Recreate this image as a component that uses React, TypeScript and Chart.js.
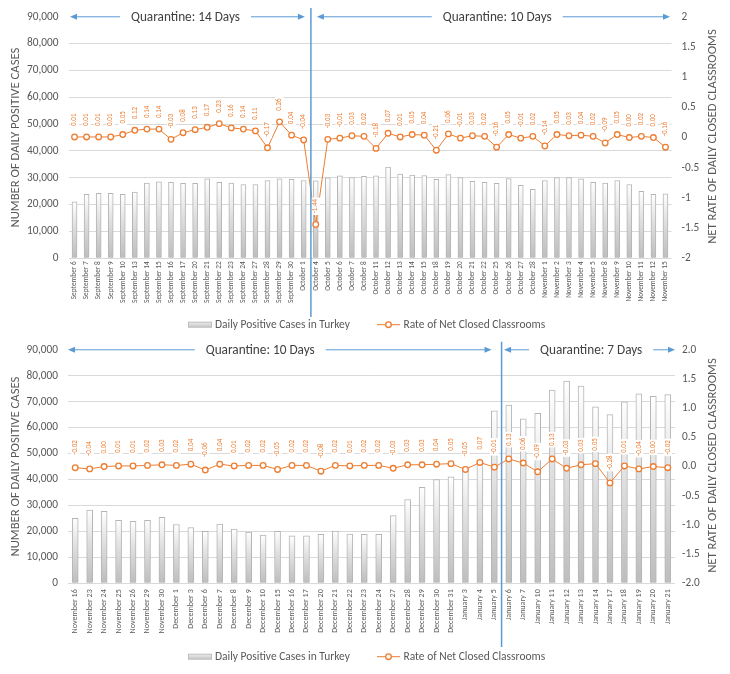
import React, { useEffect, useRef } from 'react';
import { Chart, registerables } from 'chart.js';

Chart.register(...registerables);

// ---------------- DATA ----------------
const topCategories = [
  'September 6', 'September 7', 'September 8', 'September 9', 'September 10', 'September 13', 'September 14',
  'September 15', 'September 16', 'September 17', 'September 20', 'September 21', 'September 22', 'September 23',
  'September 24', 'September 27', 'September 28', 'September 29', 'September 30', 'October 1', 'October 4',
  'October 5', 'October 6', 'October 7', 'October 8', 'October 11', 'October 12', 'October 13', 'October 14',
  'October 15', 'October 18', 'October 19', 'October 20', 'October 21', 'October 22', 'October 25', 'October 26',
  'October 27', 'October 28', 'November 1', 'November 2', 'November 3', 'November 4', 'November 5', 'November 8',
  'November 9', 'November 10', 'November 11', 'November 12', 'November 15',
];
const topCases = [
  21000, 23800, 24200, 24200, 23800, 24700, 28000, 28500, 28300, 27900, 27900, 29600, 28300, 28000, 27500, 27500,
  29000, 29600, 29400, 29000, 28900, 30000, 30700, 30100, 30500, 30700, 33950, 31350, 31000, 30850, 29400, 31200,
  30100, 28650, 28300, 27900, 29750, 27150, 25700, 29000, 30100, 30100, 29600, 28300, 28000, 29000, 27500, 24950,
  23850, 24050,
];
const topRates = [
  0.01, 0.01, 0.01, 0.01, 0.05, 0.12, 0.14, 0.14, -0.03, 0.08, 0.13, 0.17, 0.23, 0.16, 0.14, 0.11, -0.17, 0.26, 0.04,
  -0.04, -1.44, -0.03, -0.01, 0.03, 0.02, -0.18, 0.07, 0.01, 0.05, 0.04, -0.21, 0.06, -0.01, 0.03, 0.02, -0.16, 0.05,
  -0.01, 0.02, -0.14, 0.05, 0.03, 0.04, 0.02, -0.09, 0.05, 0.0, 0.02, 0.0, -0.16,
];

const bottomCategories = [
  'November 16', 'November 23', 'November 24', 'November 25', 'November 26', 'November 29', 'November 30',
  'December 1', 'December 3', 'December 6', 'December 7', 'December 8', 'December 9', 'December 10', 'December 15',
  'December 16', 'December 17', 'December 20', 'December 21', 'December 22', 'December 23', 'December 24',
  'December 27', 'December 28', 'December 29', 'December 30', 'December 31', 'January 3', 'January 4', 'January 5',
  'January 6', 'January 7', 'January 10', 'January 11', 'January 12', 'January 13', 'January 14', 'January 17',
  'January 18', 'January 19', 'January 20', 'January 21',
];
const bottomCases = [
  25050, 28200, 27700, 24300, 23900, 24300, 25450, 22650, 21500, 20000, 22800, 20900, 19750, 18600, 20000, 18250,
  18250, 18850, 20150, 19000, 18850, 18850, 26100, 32300, 36950, 40000, 41000, 44000, 47000, 66500, 68700, 63350,
  65500, 74500, 77950, 76050, 68050, 65000, 69950, 73000, 72100, 72750,
];
const bottomRates = [
  -0.02, -0.04, 0.0, 0.01, 0.01, 0.02, 0.03, 0.02, 0.04, -0.06, 0.04, 0.01, 0.02, 0.02, -0.05, 0.02, 0.02, -0.08,
  0.02, 0.01, 0.02, 0.02, -0.03, 0.03, 0.03, 0.04, 0.05, -0.05, 0.07, -0.01, 0.13, 0.06, -0.09, 0.13, -0.03, 0.03,
  0.05, -0.28, 0.01, -0.04, 0.0, -0.02,
];

const casesLabel = 'Daily Positive Cases in Turkey';
const ratesLabel = 'Rate of Net Closed Classrooms';
const leftTitle = 'NUMBER OF DAILY POSITIVE CASES';
const rightTitle = 'NET RATE OF DAILY CLOSED CLASSROOMS';

// ---------------- STYLE ----------------
const FONT = 'Carlito, Calibri, Lato, "Liberation Sans", sans-serif';
const ORANGE = '#ED7D31';
const BLUE = '#5B9BD5';
const TXT = '#595959';

function fitSize(text: string, target: number, family: string) {
  const c = document.createElement('canvas').getContext('2d') as CanvasRenderingContext2D;
  c.font = `20px ${family}`;
  const w = c.measureText(text).width || 1;
  return (20 * target) / w;
}

const topGeom = {
  height: 333, left: 68.5, right: 671.5, top: 15, bottom: 258.3, xPad: 3, rPad: 10, barW: 5, labelGap: 11,
  divIdx: 19.6, vTop: 8, vBot: 317, legendY: 324.7, xSize: 7.3, lblSize: 7,
  rightFmt: (v: number) => String(v),
  segments: [
    { text: 'Quarantine: 14 Days', x1: ['left', 1.5], x2: ['div', -6], c: 9.2 },
    { text: 'Quarantine: 10 Days', x1: ['div', 6], x2: ['right', -1.5], c: 35.05 },
  ],
};
const bottomGeom = {
  height: 341, left: 68, right: 675, top: 13.5, bottom: 250.3, xPad: 6, rPad: 7, barW: 6, labelGap: 13,
  divIdx: 29.5, vTop: 8.7, vBot: 314, legendY: 323.7, xSize: 8, lblSize: 7,
  rightFmt: (v: number) => Number(v).toFixed(1),
  segments: [
    { text: 'Quarantine: 10 Days', x1: ['left', 0], x2: ['div', -10], c: 12.8 },
    { text: 'Quarantine: 7 Days', x1: ['div', 2.5], x2: ['right', 0], c: 35.7 },
  ],
};

function arrow(ctx: CanvasRenderingContext2D, from: number, tip: number, y: number) {
  const dir = tip > from ? 1 : -1;
  ctx.beginPath();
  ctx.moveTo(from, y);
  ctx.lineTo(tip - dir * 5, y);
  ctx.stroke();
  ctx.beginPath();
  ctx.moveTo(tip, y);
  ctx.lineTo(tip - dir * 7, y - 3);
  ctx.lineTo(tip - dir * 7, y + 3);
  ctx.closePath();
  ctx.fill();
}

function Panel({ cats, cases, rates, g }: any) {
  const ref = useRef<HTMLCanvasElement | null>(null);
  useEffect(() => {
    const canvas = ref.current as HTMLCanvasElement;
    const xSize = g.xSize;
    const ySize = fitSize('90,000', 31.5, FONT);
    const lblSize = g.lblSize;
    const titleSize = fitSize(leftTitle, 180, FONT);
    const qSize = fitSize('Quarantine: 14 Days', 109, FONT);
    const legSize = fitSize(casesLabel, 135, FONT);

    const gradFn = (c: any) => {
      const chart = c.chart;
      if (!chart.chartArea || c.type !== 'data') return '#D9D9D9';
      const ys = chart.scales.y;
      const top = ys.getPixelForValue(c.raw);
      const bot = ys.getPixelForValue(0);
      if (!isFinite(top) || !isFinite(bot) || bot - top < 1) return '#D9D9D9';
      const gr = chart.ctx.createLinearGradient(0, top, 0, bot);
      gr.addColorStop(0, '#FFFFFF');
      gr.addColorStop(0.45, '#DEDEDE');
      gr.addColorStop(1, '#BDBDBD');
      return gr;
    };

    const overlay = {
      id: 'overlay',
      afterDatasetsDraw(chart: any) {
        const ctx = chart.ctx as CanvasRenderingContext2D;
        const meta = chart.getDatasetMeta(0);
        ctx.save();
        ctx.font = `${lblSize}px ${FONT}`;
        ctx.textBaseline = 'middle';
        ctx.textAlign = 'left';
        meta.data.forEach((el: any, i: number) => {
          const t = Number(rates[i]).toFixed(2);
          const w = ctx.measureText(t).width;
          ctx.save();
          ctx.translate(el.x, el.y - g.labelGap);
          ctx.rotate(-Math.PI / 2);
          ctx.fillStyle = '#FFFFFF';
          ctx.fillRect(-1.5, -lblSize * 0.62, w + 3, lblSize * 1.24);
          ctx.fillStyle = ORANGE;
          ctx.fillText(t, 0, 0);
          ctx.restore();
        });
        ctx.restore();
      },
      afterDraw(chart: any) {
        const ctx = chart.ctx as CanvasRenderingContext2D;
        const ca = chart.chartArea;
        const xs = chart.scales.x;
        const px = (i: number) => xs.getPixelForValue(i);
        const divX = px(g.divIdx);
        const ref = (r: any) => (r[0] === 'left' ? ca.left : r[0] === 'right' ? ca.right : divX) + r[1];
        ctx.save();
        // vertical divider
        ctx.strokeStyle = BLUE;
        ctx.lineWidth = 1.5;
        ctx.beginPath();
        ctx.moveTo(divX, g.vTop);
        ctx.lineTo(divX, g.vBot);
        ctx.stroke();
        // quarantine arrows
        ctx.lineWidth = 1;
        ctx.fillStyle = BLUE;
        ctx.font = `${qSize}px ${FONT}`;
        ctx.textBaseline = 'middle';
        ctx.textAlign = 'center';
        const y = ca.top;
        g.segments.forEach((s: any) => {
          const cx = px(s.c);
          const w = ctx.measureText(s.text).width;
          ctx.strokeStyle = BLUE;
          ctx.fillStyle = BLUE;
          arrow(ctx, cx - w / 2 - 11, ref(s.x1), y);
          arrow(ctx, cx + w / 2 + 11, ref(s.x2), y);
          ctx.fillStyle = '#404040';
          ctx.fillText(s.text, cx, y + 0.5);
        });
        // axis titles
        const cy = (ca.top + ca.bottom) / 2;
        ctx.fillStyle = TXT;
        ctx.font = `${titleSize}px ${FONT}`;
        ctx.textAlign = 'center';
        ctx.textBaseline = 'middle';
        ctx.save();
        ctx.translate(15.5, cy);
        ctx.rotate(-Math.PI / 2);
        ctx.fillText(leftTitle, 0, 0);
        ctx.restore();
        ctx.save();
        ctx.translate(713, cy - 1);
        ctx.rotate(-Math.PI / 2);
        ctx.fillText(rightTitle, 0, 0);
        ctx.restore();
        // legend
        const ly = g.legendY;
        ctx.font = `${legSize}px ${FONT}`;
        ctx.textAlign = 'left';
        const lg = ctx.createLinearGradient(0, ly - 3, 0, ly + 3);
        lg.addColorStop(0, '#EFEFEF');
        lg.addColorStop(1, '#C4C4C4');
        ctx.fillStyle = lg;
        ctx.fillRect(188.5, ly - 2.5, 23, 5);
        ctx.strokeStyle = '#BDBDBD';
        ctx.lineWidth = 1;
        ctx.strokeRect(188.5, ly - 2.5, 23, 5);
        ctx.fillStyle = TXT;
        ctx.fillText(casesLabel, 215, ly + 0.5);
        ctx.strokeStyle = ORANGE;
        ctx.lineWidth = 1;
        ctx.beginPath();
        ctx.moveTo(377, ly);
        ctx.lineTo(400, ly);
        ctx.stroke();
        ctx.beginPath();
        ctx.arc(388.5, ly, 2.8, 0, Math.PI * 2);
        ctx.fillStyle = '#FFFFFF';
        ctx.fill();
        ctx.lineWidth = 1.3;
        ctx.stroke();
        ctx.fillStyle = TXT;
        ctx.fillText(ratesLabel, 403.5, ly + 0.5);
        ctx.restore();
      },
    };

    const chart = new Chart(canvas, {
      type: 'bar',
      data: {
        labels: cats,
        datasets: [
          {
            type: 'line',
            label: ratesLabel,
            data: rates,
            yAxisID: 'y1',
            order: 0,
            borderColor: ORANGE,
            borderWidth: 1,
            pointRadius: 2.8,
            pointBorderWidth: 1.3,
            pointBackgroundColor: '#FFFFFF',
            pointBorderColor: ORANGE,
            tension: 0,
          } as any,
          {
            type: 'bar',
            label: casesLabel,
            data: cases,
            yAxisID: 'y',
            order: 1,
            backgroundColor: gradFn,
            borderColor: '#B5B5B5',
            borderWidth: 1,
            barThickness: g.barW,
          } as any,
        ],
      },
      options: {
        responsive: false,
        animation: false,
        devicePixelRatio: 1,
        layout: { padding: { top: g.top, left: 0, right: 0, bottom: 0 } },
        plugins: { legend: { display: false }, tooltip: { enabled: false } },
        scales: {
          x: {
            offset: true,
            grid: { display: false, drawTicks: false },
            border: { display: false },
            ticks: {
              autoSkip: false,
              maxRotation: 90,
              minRotation: 90,
              padding: g.xPad,
              color: TXT,
              font: { family: FONT, size: xSize },
            },
            afterFit: (s: any) => {
              s.height = g.height - g.bottom;
            },
          },
          y: {
            position: 'left',
            min: 0,
            max: 90000,
            ticks: {
              stepSize: 10000,
              padding: 10,
              color: TXT,
              font: { family: FONT, size: ySize },
              callback: (v: any) => Number(v).toLocaleString('en-US'),
            },
            grid: {
              color: (c: any) => (c.tick && c.tick.value === 90000 ? 'rgba(0,0,0,0)' : '#D9D9D9'),
              drawTicks: false,
              lineWidth: 1,
            },
            border: { display: false },
            afterFit: (s: any) => {
              s.width = g.left;
            },
          },
          y1: {
            position: 'right',
            min: -2,
            max: 2,
            ticks: {
              stepSize: 0.5,
              padding: g.rPad,
              color: TXT,
              font: { family: FONT, size: ySize },
              callback: (v: any) => g.rightFmt(v),
            },
            grid: { display: false, drawTicks: false },
            border: { display: false },
            afterFit: (s: any) => {
              s.width = 730 - g.right;
            },
          },
        },
      } as any,
      plugins: [overlay],
    });
    return () => chart.destroy();
  }, []);
  return (
    <canvas
      ref={ref}
      width={730}
      height={g.height}
      style={{ display: 'block', width: 730, height: g.height }}
    />
  );
}

export default function App() {
  return (
    <div style={{ position: 'absolute', left: 0, top: 0, width: 730, height: 674, background: '#FFFFFF' }}>
      <Panel cats={topCategories} cases={topCases} rates={topRates} g={topGeom} />
      <Panel cats={bottomCategories} cases={bottomCases} rates={bottomRates} g={bottomGeom} />
    </div>
  );
}
